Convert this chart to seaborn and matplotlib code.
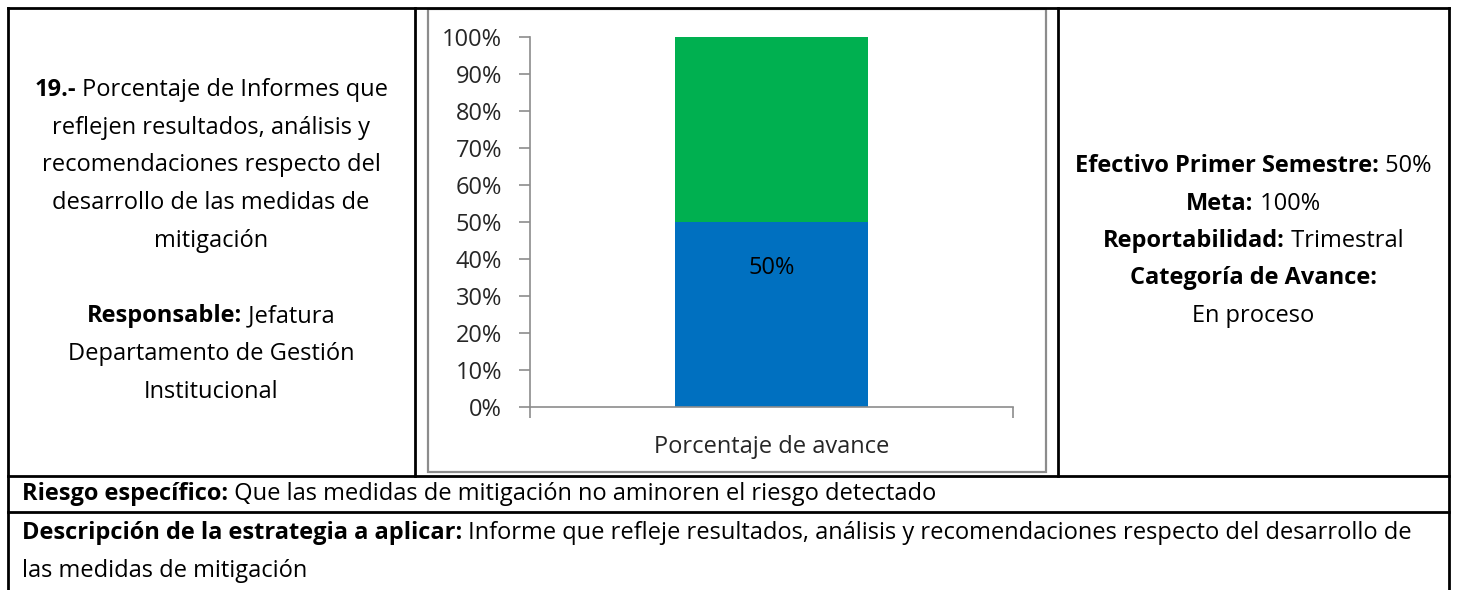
import matplotlib
matplotlib.use("Agg")
import matplotlib.pyplot as plt
from matplotlib.lines import Line2D
from matplotlib.patches import Rectangle
import seaborn as sns
import pandas as pd

# ---------------- data ----------------
categories = ["Porcentaje de avance"]
avance = [0.50]          # effective progress
meta = [1.00]            # goal (total stacked height)
ytick_vals = [0, 0.1, 0.2, 0.3, 0.4, 0.5, 0.6, 0.7, 0.8, 0.9, 1.0]
ytick_labels = ["0%", "10%", "20%", "30%", "40%", "50%", "60%", "70%", "80%", "90%", "100%"]
bar_label_text = ["50%"]

left_lines = [
    [("19.-", "bold"), (" Porcentaje de Informes que", "normal")],
    [("reflejen resultados, análisis y", "normal")],
    [("recomendaciones respecto del", "normal")],
    [("desarrollo de las medidas de", "normal")],
    [("mitigación", "normal")],
    [("", "normal")],
    [("Responsable:", "bold"), (" Jefatura", "normal")],
    [("Departamento de Gestión", "normal")],
    [("Institucional", "normal")],
]
right_lines = [
    [("Efectivo Primer Semestre:", "bold"), (" 50%", "normal")],
    [("Meta:", "bold"), (" 100%", "normal")],
    [("Reportabilidad:", "bold"), (" Trimestral", "normal")],
    [("Categoría de Avance:", "bold")],
    [("En proceso", "normal")],
]
riesgo = [("Riesgo específico:", "bold"), (" Que las medidas de mitigación no aminoren el riesgo detectado", "normal")]
desc1 = [("Descripción de la estrategia a aplicar:", "bold"),
         (" Informe que refleje resultados, análisis y recomendaciones respecto del desarrollo de", "normal")]
desc2 = [("las medidas de mitigación", "normal")]

# ---------------- figure ----------------
sns.set_theme(style="white")
plt.rcParams["font.family"] = ["Open Sans", "DejaVu Sans"]
W, H = 1457, 590
fig = plt.figure(figsize=(W / 100, H / 100), dpi=100)
fig.patch.set_facecolor("white")
renderer = fig.canvas.get_renderer()

def fx(x):
    return x / W

def fy(y):
    return 1 - y / H

def hline(x0, x1, y, lw=2.0, color="black"):
    fig.add_artist(Line2D([fx(x0), fx(x1)], [fy(y), fy(y)], lw=lw, color=color,
                          transform=fig.transFigure, solid_capstyle="projecting"))

def vline(x, y0, y1, lw=2.0, color="black"):
    fig.add_artist(Line2D([fx(x), fx(x)], [fy(y0), fy(y1)], lw=lw, color=color,
                          transform=fig.transFigure, solid_capstyle="projecting"))

FS = 17

def mixed(x, y, parts, ha="center", size=FS):
    texts = []
    widths = []
    for s, w in parts:
        t = fig.text(0, 0, s.replace(" ", "\u00a0") if s else "", fontsize=size, fontweight=w,
                     color="black", va="center", ha="left")
        bb = t.get_window_extent(renderer=renderer)
        texts.append(t)
        widths.append(bb.width)
    total = sum(widths)
    start = x - total / 2 if ha == "center" else x
    cur = start
    for t, wdt in zip(texts, widths):
        t.set_position((fx(cur), fy(y)))
        cur += wdt

# table grid
hline(8, 1449, 8)
hline(8, 1449, 476)
hline(8, 1449, 512)
vline(8, 8, 590)
vline(1449, 8, 590)
vline(415, 8, 476)
vline(1058, 8, 476)

# chart frame (grey border)
fig.add_artist(Rectangle((fx(428), fy(472)), fx(1046) - fx(428), fy(9) - fy(472),
                         transform=fig.transFigure, fill=False, edgecolor="#8c8c8c", lw=1.6))

# ---------------- chart ----------------
ax = fig.add_axes([fx(530), fy(407), fx(1013) - fx(530), fy(37) - fy(407)])
df_total = pd.DataFrame({"cat": categories, "val": meta})
df_av = pd.DataFrame({"cat": categories, "val": avance})
sns.barplot(data=df_total, x="cat", y="val", color="#00B050", saturation=1, width=0.4, ax=ax)
sns.barplot(data=df_av, x="cat", y="val", color="#0070C0", saturation=1, width=0.4, ax=ax)
for p in ax.patches:
    p.set_edgecolor("none")
    p.set_linewidth(0)
ax.set_xlim(-0.5, 0.5)
ax.set_ylim(0, 1.0)
ax.set_facecolor("none")
ax.set_yticks(ytick_vals)
ax.set_yticklabels(ytick_labels, fontsize=17)
ax.set_xticks([0])
ax.set_xticklabels(categories, fontsize=17)
ax.set_xticks([-0.5, 0.5], minor=True)
ax.tick_params(axis="x", which="major", length=0, pad=20)
ax.tick_params(axis="x", which="minor", length=8, width=1.2, color="#8c8c8c", direction="out", bottom=True)
ax.tick_params(axis="y", length=8, width=1.2, color="#8c8c8c", direction="out", left=True, pad=12)
ax.set_xlabel("")
ax.set_ylabel("")
for side in ["top", "right"]:
    ax.spines[side].set_visible(False)
for side in ["left", "bottom"]:
    ax.spines[side].set_visible(True)
    ax.spines[side].set_color("#8c8c8c")
    ax.spines[side].set_linewidth(1.2)
ax.text(0, 0.376, bar_label_text[0], ha="center", va="center", fontsize=17, color="black")

# ---------------- text cells ----------------
y0 = 90
for i, line in enumerate(left_lines):
    if line[0][0]:
        mixed(211, y0 + i * 37.7, line)

y0 = 166
for i, line in enumerate(right_lines):
    mixed(1253, y0 + i * 37.5, line)

mixed(22, 494, riesgo, ha="left")
mixed(22, 533, desc1, ha="left")
mixed(22, 571, desc2, ha="left")

fig.savefig("out.png", dpi=100, facecolor="white")
